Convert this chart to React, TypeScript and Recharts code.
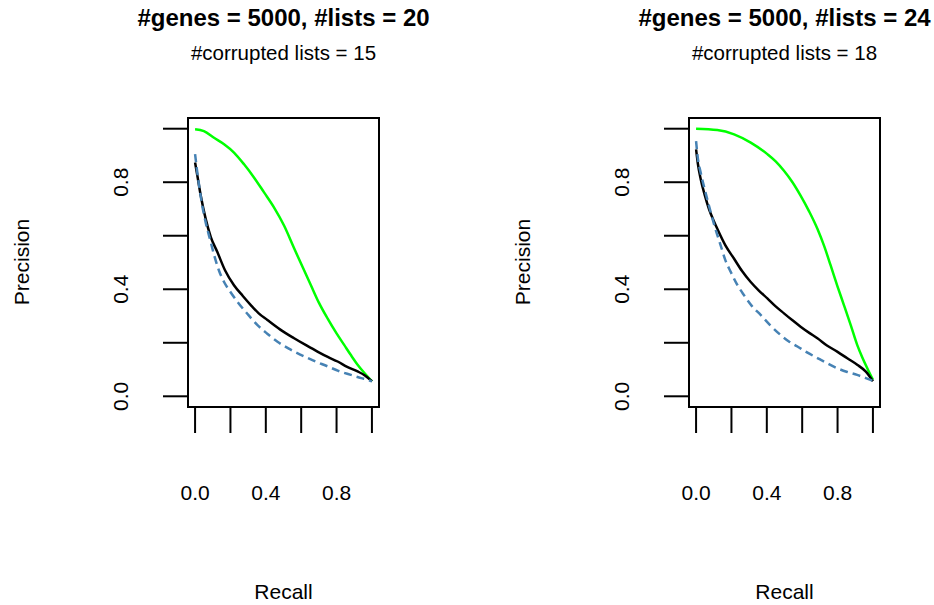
import React from 'react';
import { LineChart, Line, XAxis, YAxis, ReferenceArea, Customized } from 'recharts';

// ---- data ----
const xTicks = [0, 0.2, 0.4, 0.6, 0.8, 1];
const yTicks = [0, 0.2, 0.4, 0.6, 0.8, 1];
const xTickLabels = [0, 0.4, 0.8];
const yTickLabels = [0, 0.4, 0.8];

const titles = ['#genes = 5000, #lists = 20', '#genes = 5000, #lists = 24'];
const subtitles = ['#corrupted lists = 15', '#corrupted lists = 18'];

const leftGreenRecall = [0, 0.05, 0.107, 0.164, 0.22, 0.277, 0.333, 0.39, 0.446, 0.503, 0.56, 0.61, 0.655, 0.7, 0.749, 0.8, 0.843, 0.88, 0.919, 0.96, 1.0];
const leftGreenPrecision = [0.998, 0.991, 0.966, 0.942, 0.911, 0.867, 0.818, 0.762, 0.706, 0.638, 0.553, 0.48, 0.415, 0.35, 0.291, 0.235, 0.192, 0.155, 0.118, 0.085, 0.056];

const leftBlackRecall = [0, 0.013, 0.032, 0.06, 0.089, 0.126, 0.17, 0.22, 0.27, 0.315, 0.36, 0.409, 0.48, 0.56, 0.63, 0.692, 0.75, 0.806, 0.86, 0.919, 0.96, 1.0];
const leftBlackPrecision = [0.874, 0.824, 0.75, 0.663, 0.595, 0.539, 0.47, 0.415, 0.375, 0.341, 0.31, 0.285, 0.25, 0.217, 0.19, 0.167, 0.147, 0.13, 0.11, 0.093, 0.078, 0.056];

const leftBlueRecall = [0, 0.01, 0.023, 0.04, 0.06, 0.085, 0.108, 0.135, 0.164, 0.2, 0.24, 0.3, 0.353, 0.41, 0.466, 0.53, 0.598, 0.67, 0.749, 0.81, 0.881, 0.94, 0.975, 1.0];
const leftBluePrecision = [0.905, 0.85, 0.787, 0.715, 0.65, 0.585, 0.527, 0.47, 0.427, 0.39, 0.353, 0.305, 0.266, 0.233, 0.204, 0.178, 0.155, 0.133, 0.112, 0.095, 0.08, 0.068, 0.062, 0.056];

const rightGreenRecall = [0, 0.12, 0.215, 0.309, 0.403, 0.45, 0.497, 0.545, 0.591, 0.64, 0.686, 0.725, 0.761, 0.8, 0.836, 0.875, 0.911, 0.94, 0.968, 1.0];
const rightGreenPrecision = [1.0, 0.995, 0.979, 0.948, 0.905, 0.878, 0.843, 0.8, 0.75, 0.69, 0.626, 0.56, 0.489, 0.41, 0.341, 0.265, 0.192, 0.145, 0.105, 0.062];

const rightBlackRecall = [0, 0.01, 0.026, 0.05, 0.073, 0.097, 0.12, 0.165, 0.215, 0.26, 0.309, 0.355, 0.403, 0.45, 0.497, 0.545, 0.591, 0.64, 0.686, 0.74, 0.798, 0.855, 0.911, 0.96, 1.0];
const rightBlackPrecision = [0.923, 0.87, 0.812, 0.75, 0.7, 0.66, 0.626, 0.565, 0.514, 0.468, 0.427, 0.395, 0.366, 0.336, 0.31, 0.284, 0.26, 0.237, 0.217, 0.19, 0.167, 0.142, 0.118, 0.092, 0.056];

const rightBlueRecall = [0, 0.01, 0.026, 0.05, 0.073, 0.105, 0.139, 0.165, 0.196, 0.23, 0.271, 0.315, 0.365, 0.42, 0.478, 0.525, 0.573, 0.63, 0.686, 0.74, 0.798, 0.855, 0.911, 0.96, 1.0];
const rightBluePrecision = [0.954, 0.89, 0.836, 0.77, 0.712, 0.635, 0.564, 0.51, 0.465, 0.42, 0.378, 0.338, 0.304, 0.265, 0.229, 0.205, 0.186, 0.163, 0.143, 0.124, 0.105, 0.091, 0.08, 0.068, 0.058];

const toPoints = (xs: number[], ys: number[]) => xs.map((x, i) => ({ x, y: ys[i] }));

const FONT = '"Liberation Sans", Arial, Helvetica, sans-serif';
const fmt = (v: number) => v.toFixed(1);

const XTick = (props: any) => {
  const { x, y, payload } = props;
  const show = xTickLabels.includes(payload.value);
  return (
    <g>
      <line x1={x} y1={y} x2={x} y2={y + 26} stroke="#000" strokeWidth={2} />
      {show && (
        <text x={x} y={y + 93} textAnchor="middle" fontSize={21} fontFamily={FONT} fill="#000">
          {fmt(payload.value)}
        </text>
      )}
    </g>
  );
};

const YTick = (props: any) => {
  const { x, y, payload } = props;
  const show = yTickLabels.includes(payload.value);
  const tx = x - 60;
  return (
    <g>
      <line x1={x - 25} y1={y} x2={x} y2={y} stroke="#000" strokeWidth={2} />
      {show && (
        <text x={tx} y={y} textAnchor="middle" fontSize={21} fontFamily={FONT} fill="#000" transform={`rotate(-90, ${tx}, ${y})`}>
          {fmt(payload.value)}
        </text>
      )}
    </g>
  );
};

type PanelProps = {
  width: number;
  title: string;
  subtitle: string;
  green: { x: number; y: number }[];
  black: { x: number; y: number }[];
  blue: { x: number; y: number }[];
};

const PLOT_LEFT = 188;
const PLOT_W = 191;

const Panel = ({ width, title, subtitle, green, black, blue }: PanelProps) => {
  const cx = PLOT_LEFT + PLOT_W / 2;
  return (
    <LineChart width={width} height={605} margin={{ top: 118, right: width - PLOT_LEFT - PLOT_W, bottom: 0, left: 0 }}>
      <XAxis
        dataKey="x"
        type="number"
        domain={[-0.04, 1.04]}
        ticks={xTicks}
        interval={0}
        allowDataOverflow
        height={198}
        axisLine={false}
        tickLine={false}
        tickSize={0}
        tickMargin={0}
        tick={<XTick />}
      />
      <YAxis
        dataKey="y"
        type="number"
        domain={[-0.04, 1.04]}
        ticks={yTicks}
        interval={0}
        allowDataOverflow
        width={PLOT_LEFT}
        axisLine={false}
        tickLine={false}
        tickSize={0}
        tickMargin={0}
        tick={<YTick />}
      />
      <ReferenceArea x1={-0.04} x2={1.04} y1={-0.04} y2={1.04} fill="none" fillOpacity={0} stroke="#000" strokeWidth={2} ifOverflow="visible" />
      <Line data={green} dataKey="y" type="monotone" stroke="#00FF00" strokeWidth={2.5} dot={false} isAnimationActive={false} />
      <Line data={black} dataKey="y" type="monotone" stroke="#000000" strokeWidth={2.5} dot={false} isAnimationActive={false} />
      <Line data={blue} dataKey="y" type="monotone" stroke="#4682B4" strokeWidth={2.5} strokeDasharray="8 5" dot={false} isAnimationActive={false} />
      <Customized
        component={() => (
          <g fontFamily={FONT} fill="#000">
            <text x={cx} y={26} textAnchor="middle" fontSize={24} fontWeight="bold">{title}</text>
            <text x={cx} y={60} textAnchor="middle" fontSize={20.5}>{subtitle}</text>
            <text x={cx} y={599} textAnchor="middle" fontSize={21}>Recall</text>
            <text x={29} y={262} textAnchor="middle" fontSize={21} transform="rotate(-90, 29, 262)">Precision</text>
          </g>
        )}
      />
    </LineChart>
  );
};

export default function App() {
  return (
    <div style={{ position: 'absolute', left: 0, top: 0, width: 934, height: 605, overflow: 'hidden', background: '#fff' }}>
      <div style={{ position: 'absolute', left: 0, top: 0 }}>
        <Panel
          width={500}
          title={titles[0]}
          subtitle={subtitles[0]}
          green={toPoints(leftGreenRecall, leftGreenPrecision)}
          black={toPoints(leftBlackRecall, leftBlackPrecision)}
          blue={toPoints(leftBlueRecall, leftBluePrecision)}
        />
      </div>
      <div style={{ position: 'absolute', left: 501, top: 0 }}>
        <Panel
          width={433}
          title={titles[1]}
          subtitle={subtitles[1]}
          green={toPoints(rightGreenRecall, rightGreenPrecision)}
          black={toPoints(rightBlackRecall, rightBlackPrecision)}
          blue={toPoints(rightBlueRecall, rightBluePrecision)}
        />
      </div>
    </div>
  );
}
